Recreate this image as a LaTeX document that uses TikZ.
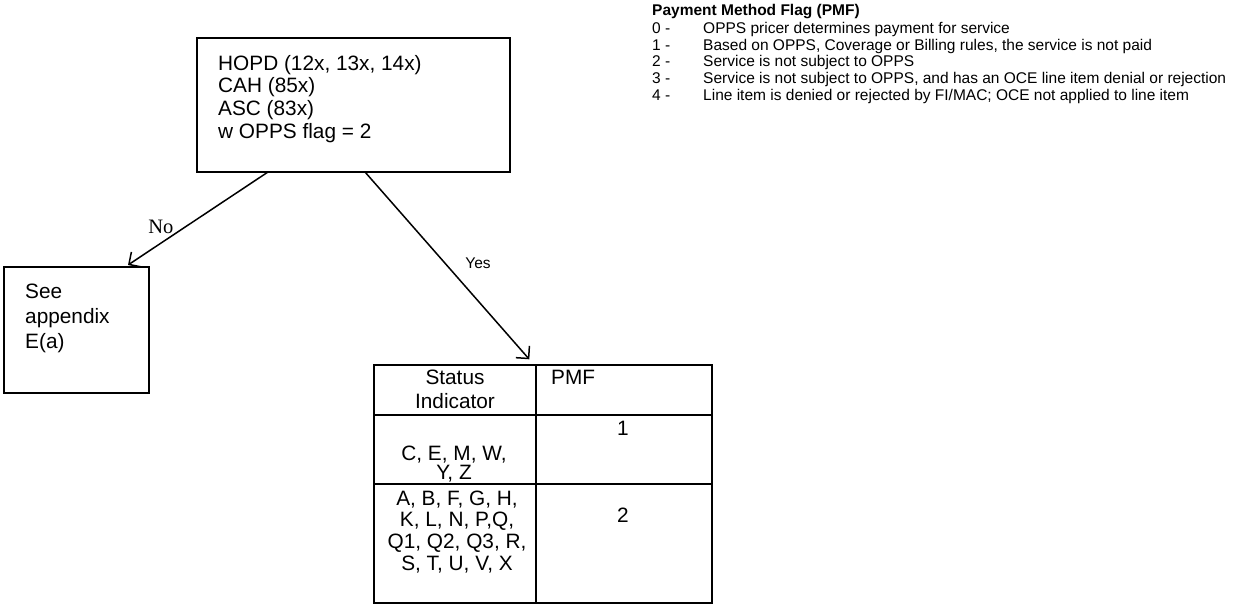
\documentclass[tikz,border=0pt]{standalone}
\usepackage{fontspec}
\setmainfont{Liberation Sans}
\newfontfamily\timesfont{Liberation Serif}
\usepackage{tikz}
\usetikzlibrary{arrows.meta}
\newcommand{\lft}[1]{\begin{tabular}[t]{@{}l@{}}#1\end{tabular}}
\newcommand{\ctr}[1]{\begin{tabular}[t]{@{}c@{}}#1\end{tabular}}
\tikzset{
  box/.style={draw, line width=2pt, inner sep=0pt, outer sep=0pt, anchor=north west},
  txt/.style={inner sep=0pt, anchor=base west, font=\fontsize{20.8}{22.8}\selectfont},
  flow/.style={line width=1.5pt, -{Straight Barb[length=9pt,width=18pt]}}
}

\begin{document}
\begin{tikzpicture}[x=1pt,y=-1pt]
                      \useasboundingbox (0,0) rectangle (1241,605);
                      % legend
                      \node[inner sep=0pt, anchor=base west, font=\fontsize{15.5}{16.7}\selectfont] (pmflegend) at (652,15.7) {\begin{tabular}[t]{@{}p{51pt}@{}l@{}}
                        \multicolumn{2}{@{}l@{}}{\bfseries Payment Method Flag (PMF)}\\[0.9pt]
                        0 - & OPPS pricer determines payment for service\\
                        1 - & Based on OPPS, Coverage or Billing rules, the service is not paid\\
                        2 - & Service is not subject to OPPS\\
                        3 - & Service is not subject to OPPS, and has an OCE line item denial or rejection\\
                        4 - & Line item is denied or rejected by FI/MAC; OCE not applied to line item
                      \end{tabular}};
                      % boxes
                      \node[box, minimum width=313pt, minimum height=134pt] (hopd) at (197,38) {};
                      \node[txt] (hopdtext) at (218,70) {\lft{HOPD (12x, 13x, 14x)\\CAH (85x)\\ASC (83x)\\w OPPS flag = 2}};
                      \node[box, minimum width=145pt, minimum height=126pt] (see) at (4,267) {};
                      \node[txt, font=\fontsize{20.8}{25.3}\selectfont] (seetext) at (25,298.3) {\lft{See\\appendix\\E(a)}};
                      % table
                      \node[box, line width=2.2pt, minimum width=338pt, minimum height=238pt] (tbl) at (374,365) {};
                      \draw[line width=2.2pt] ([xshift=162pt]tbl.north west) -- ([xshift=162pt]tbl.south west);
                      \draw[line width=2.2pt] ([yshift=-50pt]tbl.north west) -- ([yshift=-50pt]tbl.north east);
                      \draw[line width=2.2pt] ([yshift=-119pt]tbl.north west) -- ([yshift=-119pt]tbl.north east);
                      \node[txt, anchor=base, font=\fontsize{20.8}{24}\selectfont] (status) at (455,384.3) {\ctr{Status\\Indicator}};
                      \node[txt] (pmf) at (551,384.3) {PMF};
                      \node[txt, anchor=base] (one) at (623,435) {1};
                      \node[txt, anchor=base, font=\fontsize{20.8}{16.7}\selectfont] (cemw) at (454,460) {\ctr{C, E, M, W,\\Y, Z}};
                      \node[txt, anchor=base, font=\fontsize{20.8}{21.7}\selectfont] (abfg) at (457,505) {\ctr{A, B, F, G, H,\\K, L, N, P,Q,\\Q1, Q2, Q3, R,\\S, T, U, V, X}};
                      \node[txt, anchor=base] (two) at (623,522) {2};
                      % arrows
                      \draw[flow] ([xshift=71pt]hopd.south west) -- ([xshift=124pt,yshift=2pt]see.north west);
                      \draw[flow] ([xshift=168pt]hopd.south west) -- ([xshift=155.3pt,yshift=5.7pt]tbl.north west);
                      \node[inner sep=0pt, anchor=base, font=\timesfont\fontsize{20.5}{24}\selectfont] (no) at (160.8,233.3) {No};
                      \node[inner sep=0pt, anchor=base, font=\fontsize{15.5}{18}\selectfont] (yes) at (478,268.3) {Yes};
                  \end{tikzpicture}
\end{document}
